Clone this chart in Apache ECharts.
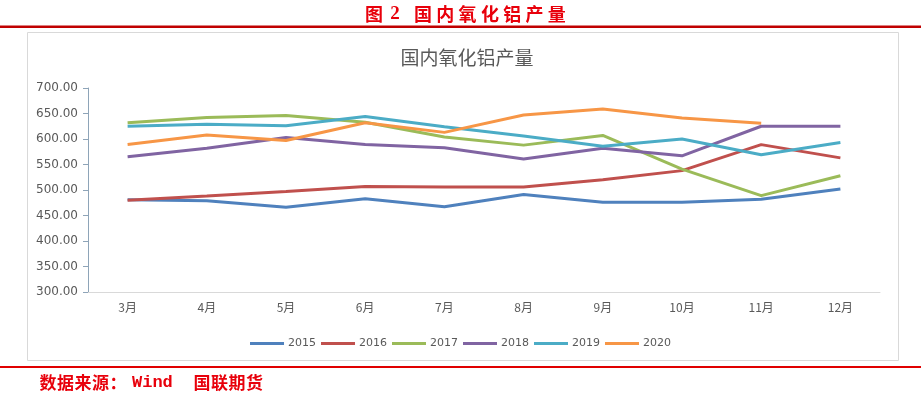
<!DOCTYPE html>
<html><head><meta charset="utf-8">
<script src="https://cdn.jsdelivr.net/npm/echarts@6/dist/echarts.min.js"></script>
<style>html,body{margin:0;padding:0;background:#fff}#c{width:921px;height:394px}</style>
</head><body><div id="c"></div>
<script>
const categories = ['3月','4月','5月','6月','7月','8月','9月','10月','11月','12月'];
const s2015 = [481, 479, 466, 483, 467, 491, 476, 476, 482, 502];
const s2016 = [480, 488, 497, 507, 506, 506, 520, 538, 589, 563];
const s2017 = [632, 642, 646, 633, 604, 588, 607, 541, 489, 528];
const s2018 = [565, 582, 603, 589, 583, 561, 582, 567, 625, 625];
const s2019 = [625, 629, 626, 644, 624, 606, 586, 600, 569, 593];
const s2020 = [589, 608, 597, 632, 613, 647, 659, 641, 631, null];
const seriesNames = ['2015','2016','2017','2018','2019','2020'];
const figureTitle = ['图', '2', '国内氧化铝产量'];
const chartTitle = '国内氧化铝产量';
const sourceParts = ['数据来源：', 'Wind', '国联期货'];
const colors = ['#4F81BD','#C0504D','#9BBB59','#8064A2','#4BACC6','#F79646'];
const allData = [s2015, s2016, s2017, s2018, s2019, s2020];

const RED = '#e8000b';
function charRow(str, x0, pitch, cy, font) {
  return Array.from(str).map((ch, k) => ({
    type: 'text', x: x0 + k * pitch, y: cy,
    style: { text: ch, fill: RED, font: font, textAlign: 'center', textVerticalAlign: 'middle' }
  }));
}
const tFont = 'bold 18px "Noto Sans CJK SC"';
const sFont = 'bold 17px "Noto Sans CJK SC"';
const graphics = [
  ...charRow(figureTitle[0], 374, 22.5, 14, tFont),
  { type: 'text', x: 395, y: 14, style: { text: figureTitle[1], fill: RED, font: 'bold 19px "Liberation Serif"', textAlign: 'center', textVerticalAlign: 'middle' } },
  ...charRow(figureTitle[2], 423, 22.3, 14, tFont),
  { type: 'rect', shape: { x: 0, y: 25.5, width: 921, height: 2.5 }, style: { fill: '#c00000' } },
  { type: 'rect', shape: { x: 27.5, y: 32.5, width: 871, height: 328 }, style: { fill: 'none', stroke: '#d9d9d9', lineWidth: 1 } },
  { type: 'rect', shape: { x: 0, y: 366, width: 921, height: 2 }, style: { fill: '#e00000' } },
  ...charRow(sourceParts[0], 48, 17.5, 383, sFont),
  { type: 'text', x: 132, y: 383, style: { text: sourceParts[1], fill: RED, font: 'bold 17px "Liberation Mono"', textAlign: 'left', textVerticalAlign: 'middle' } },
  ...charRow(sourceParts[2], 202, 17.5, 383, sFont)
];

const chart = echarts.init(document.getElementById('c'));
chart.setOption({
  animation: false,
  color: colors,
  title: {
    text: chartTitle, left: 462, top: 43, textAlign: 'center',
    textStyle: { fontFamily: 'Noto Sans CJK SC', fontSize: 19, fontWeight: 'normal', color: '#595959' }
  },
  graphic: graphics,
  legend: {
    data: seriesNames, top: 333, left: 'center',
    itemWidth: 34, itemHeight: 3, itemGap: 5, icon: 'rect',
    textStyle: { fontFamily: 'DejaVu Sans', fontSize: 11, color: '#595959', padding: [0, 0, 0, -1] }
  },
  grid: { left: 88, right: 41, top: 88, bottom: 102 },
  xAxis: {
    type: 'category', data: categories, boundaryGap: true,
    axisLine: { lineStyle: { color: '#d9d9d9' } },
    axisTick: { show: false },
    axisLabel: { color: '#595959', fontSize: 12, margin: 9, fontFamily: 'Noto Sans CJK SC' }
  },
  yAxis: {
    type: 'value', min: 300, max: 700, interval: 50,
    axisLine: { show: true, lineStyle: { color: '#8ea4b8' } },
    axisTick: { show: true, length: 5, lineStyle: { color: '#8ea4b8' } },
    splitLine: { show: false },
    axisLabel: { color: '#595959', fontSize: 12, margin: 10, fontFamily: 'DejaVu Sans', formatter: v => v.toFixed(2) }
  },
  series: allData.map((d, i) => ({
    name: seriesNames[i], type: 'line', data: d, symbol: 'none',
    lineStyle: { width: 3, color: colors[i] }, itemStyle: { color: colors[i] }
  }))
});
</script></body></html>
